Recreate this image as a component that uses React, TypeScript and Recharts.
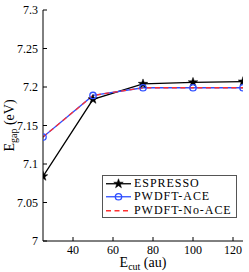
import React from "react";
import { LineChart, Line, XAxis, YAxis, Legend } from "recharts";

const ecut = [25, 50, 75, 100, 125];
const espresso = [7.084, 7.184, 7.204, 7.206, 7.207];
const pwdftAce = [7.135, 7.189, 7.199, 7.199, 7.199];
const pwdftNoAce = [7.135, 7.189, 7.199, 7.199, 7.199];
const xTicks = [40, 60, 80, 100, 120];
const yTicks = [7, 7.05, 7.1, 7.15, 7.2, 7.25, 7.3];

const data = ecut.map((e, i) => ({
  ecut: e,
  espresso: espresso[i],
  ace: pwdftAce[i],
  noace: pwdftNoAce[i],
}));

const FONT = "Liberation Serif, DejaVu Serif, serif";

const Star = (props: any) => {
  const { cx, cy } = props;
  if (cx == null || cy == null) return null;
  const R = 5;
  const r = 2;
  const pts: string[] = [];
  for (let i = 0; i < 10; i++) {
    const a = -Math.PI / 2 + (i * Math.PI) / 5;
    const rr = i % 2 === 0 ? R : r;
    pts.push(`${cx + rr * Math.cos(a)},${cy + rr * Math.sin(a)}`);
  }
  return <polygon points={pts.join(" ")} fill="#000" stroke="#000" strokeWidth={0.5} />;
};

const Circ = (props: any) => {
  const { cx, cy } = props;
  if (cx == null || cy == null) return null;
  return <circle cx={cx} cy={cy} r={3.2} fill="none" stroke="#2f4fff" strokeWidth={1.3} />;
};

const ROW = 13.5;

const LegendBox = () => {
  const rows = [
    { label: "ESPRESSO", kind: "star" },
    { label: "PWDFT-ACE", kind: "circ" },
    { label: "PWDFT-No-ACE", kind: "dash" },
  ];
  return (
    <div
      style={{
        position: "absolute",
        left: 102,
        top: 175,
        width: 135,
        height: 43,
        boxSizing: "border-box",
        border: "1px solid #555",
        background: "#fff",
        fontFamily: FONT,
        fontSize: 12,
        letterSpacing: 0.95,
        lineHeight: `${ROW}px`,
        paddingTop: 0.5,
      }}
    >
      {rows.map((r) => (
        <div key={r.label} style={{ display: "flex", alignItems: "center", height: ROW }}>
          <svg width={31} height={ROW} style={{ flex: "none" }}>
            {r.kind === "star" && (
              <>
                <line x1={3} x2={28} y1={ROW / 2} y2={ROW / 2} stroke="#000" strokeWidth={1.3} />
                <Star cx={15.5} cy={ROW / 2} />
              </>
            )}
            {r.kind === "circ" && (
              <>
                <line x1={3} x2={28} y1={ROW / 2} y2={ROW / 2} stroke="#2f4fff" strokeWidth={1.3} />
                <Circ cx={15.5} cy={ROW / 2} />
              </>
            )}
            {r.kind === "dash" && (
              <line x1={3} x2={28} y1={ROW / 2} y2={ROW / 2} stroke="#ff3030" strokeWidth={1.3} strokeDasharray="5 3.5" />
            )}
          </svg>
          <span style={{ whiteSpace: "nowrap" }}>{r.label}</span>
        </div>
      ))}
    </div>
  );
};

const XLabel = (props: any) => {
  const { viewBox } = props;
  const cx = viewBox.x + viewBox.width / 2;
  return (
    <text x={cx} y={267} textAnchor="middle" fontFamily={FONT} fontSize={14} fill="#000">
      E<tspan fontSize={10} dy={3}>cut</tspan>
      <tspan dy={-3}> (au)</tspan>
    </text>
  );
};

const YLabel = (props: any) => {
  const { viewBox } = props;
  const cy = viewBox.y + viewBox.height / 2;
  const x = 14;
  return (
    <text
      x={x}
      y={cy}
      textAnchor="middle"
      fontFamily={FONT}
      fontSize={14}
      fill="#000"
      transform={`rotate(-90 ${x} ${cy})`}
    >
      E<tspan fontSize={10} dy={3}>gap</tspan>
      <tspan dy={-3}> (eV)</tspan>
    </text>
  );
};

export default function App() {
  return (
    <div style={{ position: "absolute", left: 0, top: 0, width: 249, height: 272 }}>
      <LineChart
        width={249}
        height={272}
        data={data}
        margin={{ top: 10, right: 6, left: 0, bottom: 0 }}
      >
        <XAxis
          xAxisId="b"
          dataKey="ecut"
          type="number"
          domain={[25, 125]}
          ticks={xTicks}
          height={31}
          tickSize={-4}
          tickMargin={8}
          stroke="#000"
          tick={{ fill: "#000", fontFamily: FONT, fontSize: 12 }}
          label={<XLabel />}
          allowDataOverflow
        />
        <XAxis
          xAxisId="t"
          orientation="top"
          dataKey="ecut"
          type="number"
          domain={[25, 125]}
          ticks={xTicks}
          height={0}
          tickSize={-4}
          tick={false}
          stroke="#000"
        />
        <YAxis
          yAxisId="l"
          type="number"
          domain={[7, 7.3]}
          ticks={yTicks}
          width={43}
          tickSize={-4}
          tickMargin={9}
          stroke="#000"
          tick={{ fill: "#000", fontFamily: FONT, fontSize: 12 }}
          label={<YLabel />}
          allowDataOverflow
        />
        <YAxis
          yAxisId="r"
          orientation="right"
          type="number"
          domain={[7, 7.3]}
          ticks={yTicks}
          width={0}
          tickSize={-4}
          tick={false}
          stroke="#000"
        />
        <Legend content={() => <LegendBox />} wrapperStyle={{ position: "absolute", left: 0, top: 0, width: 0, height: 0 }} />
        <Line
          xAxisId="b"
          yAxisId="l"
          dataKey="espresso"
          stroke="#000"
          strokeWidth={1.3}
          dot={<Star />}
          isAnimationActive={false}
        />
        <Line
          xAxisId="b"
          yAxisId="l"
          dataKey="ace"
          stroke="#2f4fff"
          strokeWidth={1.3}
          dot={<Circ />}
          isAnimationActive={false}
        />
        <Line
          xAxisId="b"
          yAxisId="l"
          dataKey="noace"
          stroke="#ff3030"
          strokeWidth={1.3}
          strokeDasharray="5 3.5"
          dot={false}
          isAnimationActive={false}
        />
      </LineChart>
    </div>
  );
}
